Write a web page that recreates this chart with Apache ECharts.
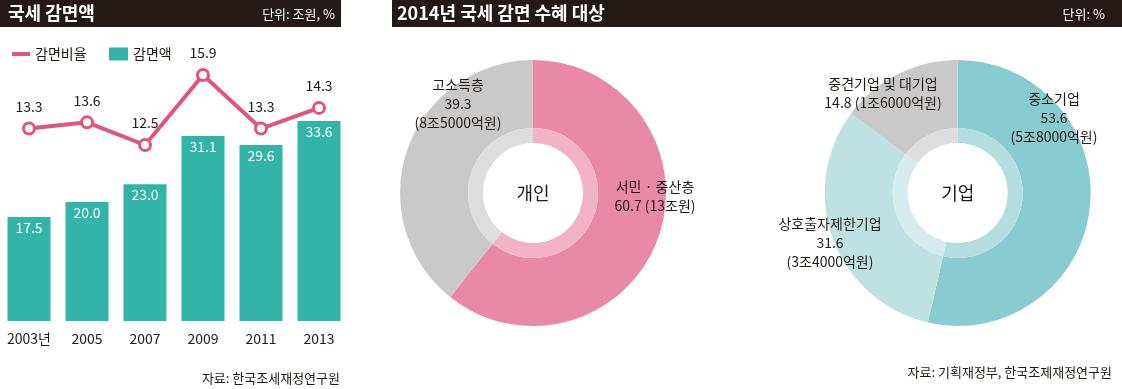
<!DOCTYPE html>
<html>
<head>
<meta charset="utf-8">
<script src="https://cdn.jsdelivr.net/npm/echarts@6/dist/echarts.min.js"></script>
<style>
html,body{margin:0;padding:0;background:#fff;}
#chart{width:1122px;height:389px;}
</style>
</head>
<body>
<div id="chart"></div>
<script>
// ---- data ----
const categories = ['2003년', '2005', '2007', '2009', '2011', '2013'];
const reductionAmount = [17.5, 20.0, 23.0, 31.1, 29.6, 33.6];   // 감면액 (조원)
const reductionRate = [13.3, 13.6, 12.5, 15.9, 13.3, 14.3];     // 감면비율 (%)
const personalNames = ['서민 · 중산층', '고소득층'];
const personalShares = [60.7, 39.3];
const personalAmounts = ['13조원', '8조5000억원'];
const corporateNames = ['중소기업', '상호출자제한기업', '중견기업 및 대기업'];
const corporateShares = [53.6, 31.6, 14.8];
const corporateAmounts = ['5조8000억원', '3조4000억원', '1조6000억원'];

// ---- styling / layout ----
const FONT = '"Noto Sans CJK KR", "Noto Sans", sans-serif';
const DARK = '#231916';
const BAR = '#32b5a8';
const PINK_LINE = '#e0557a';
const personalColors = ['#e88aa7', '#c9c9c9'];
const personalInner = ['#f2b3c6', '#dddddd'];
const corporateColors = ['#88cbd0', '#bfe1e1', '#c9c9c9'];
const corporateInner = ['#b3dde0', '#d6ebeb', '#dddddd'];
const personalLabelPos = [[655, 196.5], [458, 103.5]];
const corporateLabelPos = [[1054, 118], [830, 243], [883, 93]];
const personalInline = [true, false];
const corporateInline = [false, false, true];

function pieData(names, values, colors) {
  return names.map((n, i) => ({ name: n, value: values[i], itemStyle: { color: colors[i], borderWidth: 0 } }));
}
function pieLabelFormatter(amounts, inline) {
  return function (p) {
    const i = p.dataIndex;
    return p.name + '\n' + p.value.toFixed(1) + (inline[i] ? ' ' : '\n') + '(' + amounts[i] + ')';
  };
}
function pieLayout(pos) {
  return function (p) {
    const q = pos[p.dataIndex];
    return { x: q[0], y: q[1], align: 'center', verticalAlign: 'middle' };
  };
}

const chart = echarts.init(document.getElementById('chart'), null, { renderer: 'canvas' });

const option = {
  animation: false,
  textStyle: { fontFamily: FONT },
  legend: [
    {
      left: 7, top: 42, itemWidth: 18, itemHeight: 4, icon: 'rect',
      textStyle: { fontFamily: FONT, fontSize: 14, color: DARK },
      data: [{ name: '감면비율', icon: 'rect', itemStyle: { color: PINK_LINE, borderWidth: 0 } }],
      selectedMode: false
    },
    {
      left: 104, top: 42, itemWidth: 19, itemHeight: 13, icon: 'rect',
      textStyle: { fontFamily: FONT, fontSize: 14, color: DARK },
      data: ['감면액'],
      selectedMode: false
    }
  ],
  grid: [
    { left: -2, width: 350, top: 83, bottom: 68 },
    { left: -2, width: 350, top: 72.9, bottom: 192.5 }
  ],
  xAxis: [
    {
      type: 'category', gridIndex: 0, data: categories,
      axisLine: { show: false }, axisTick: { show: false },
      axisLabel: { fontFamily: FONT, fontSize: 14, color: DARK, margin: 11 }
    },
    {
      type: 'category', gridIndex: 1, data: categories, show: false
    }
  ],
  yAxis: [
    { type: 'value', gridIndex: 0, min: 0, max: 40, show: false, splitLine: { show: false } },
    { type: 'value', gridIndex: 1, min: 10, max: 16, show: false, splitLine: { show: false } }
  ],
  series: [
    {
      name: '감면액', type: 'bar', xAxisIndex: 0, yAxisIndex: 0,
      data: reductionAmount, barWidth: 43,
      itemStyle: { color: BAR },
      label: {
        show: true, position: 'insideTop', distance: 4,
        color: '#fff', fontSize: 14, fontFamily: FONT,
        formatter: p => p.value.toFixed(1)
      },
      silent: true
    },
    {
      name: '감면비율', type: 'line', xAxisIndex: 1, yAxisIndex: 1,
      data: reductionRate, symbol: 'circle', symbolSize: 11,
      lineStyle: { color: PINK_LINE, width: 4 },
      itemStyle: { color: '#fff', borderColor: PINK_LINE, borderWidth: 3 },
      label: {
        show: true, position: 'top', distance: 8,
        color: DARK, fontSize: 14, fontFamily: FONT,
        formatter: p => p.value.toFixed(1)
      },
      z: 5, silent: true
    },
    {
      name: '개인', type: 'pie', center: [533, 193], radius: [65, 133],
      startAngle: 90, clockwise: true, silent: true,
      data: pieData(personalNames, personalShares, personalColors),
      label: {
        show: true, position: 'inside', color: DARK, fontSize: 14, lineHeight: 19,
        fontFamily: FONT, formatter: pieLabelFormatter(personalAmounts, personalInline)
      },
      labelLine: { show: false },
      labelLayout: pieLayout(personalLabelPos)
    },
    {
      name: '개인-inner', type: 'pie', center: [533, 193], radius: [50, 65],
      startAngle: 90, clockwise: true, silent: true,
      data: pieData(personalNames, personalShares, personalInner),
      label: { show: false }, labelLine: { show: false }
    },
    {
      name: '기업', type: 'pie', center: [957.7, 193], radius: [65, 133],
      startAngle: 90, clockwise: true, silent: true,
      data: pieData(corporateNames, corporateShares, corporateColors),
      label: {
        show: true, position: 'inside', color: DARK, fontSize: 14, lineHeight: 19,
        fontFamily: FONT, formatter: pieLabelFormatter(corporateAmounts, corporateInline)
      },
      labelLine: { show: false },
      labelLayout: pieLayout(corporateLabelPos)
    },
    {
      name: '기업-inner', type: 'pie', center: [957.7, 193], radius: [50, 65],
      startAngle: 90, clockwise: true, silent: true,
      data: pieData(corporateNames, corporateShares, corporateInner),
      label: { show: false }, labelLine: { show: false }
    }
  ],
  graphic: [
    { type: 'rect', shape: { x: 0, y: 0, width: 341, height: 27 }, style: { fill: DARK }, silent: true },
    { type: 'rect', shape: { x: 392, y: 0, width: 730, height: 27 }, style: { fill: DARK }, silent: true },
    { type: 'text', x: 8, y: 13.5, style: { text: '국세 감면액', fill: '#fff', font: 'bold 18px ' + FONT, textVerticalAlign: 'middle' } },
    { type: 'text', x: 335, y: 14, style: { text: '단위: 조원, %', fill: '#fff', font: '13px ' + FONT, textAlign: 'right', textVerticalAlign: 'middle' } },
    { type: 'text', x: 397, y: 13.5, style: { text: '2014년 국세 감면 수혜 대상', fill: '#fff', font: 'bold 18px ' + FONT, textVerticalAlign: 'middle' } },
    { type: 'text', x: 1105, y: 14, style: { text: '단위: %', fill: '#fff', font: '13px ' + FONT, textAlign: 'right', textVerticalAlign: 'middle' } },
    { type: 'text', x: 533, y: 193, style: { text: '개인', fill: DARK, font: '18px ' + FONT, textAlign: 'center', textVerticalAlign: 'middle' } },
    { type: 'text', x: 957.7, y: 193, style: { text: '기업', fill: DARK, font: '18px ' + FONT, textAlign: 'center', textVerticalAlign: 'middle' } },
    { type: 'text', x: 340, y: 378, style: { text: '자료: 한국조세재정연구원', fill: DARK, font: '13px ' + FONT, textAlign: 'right', textVerticalAlign: 'middle' } },
    { type: 'text', x: 1112, y: 372, style: { text: '자료: 기획재정부, 한국조제재정연구원', fill: DARK, font: '13px ' + FONT, textAlign: 'right', textVerticalAlign: 'middle' } }
  ]
};
chart.setOption(option);
</script>
</body>
</html>
